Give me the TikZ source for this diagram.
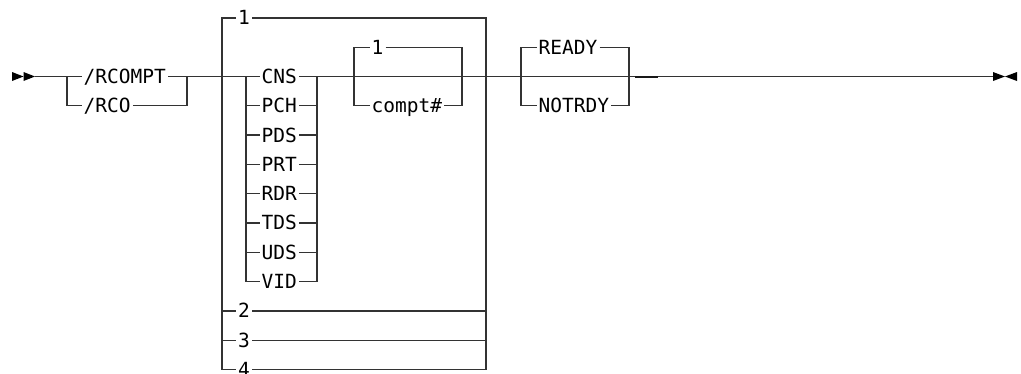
\documentclass[tikz,border=0pt]{standalone}
\usepackage{fontspec}
\newfontfamily\rrfont{DejaVu Sans Mono}
\begin{document}
\begin{tikzpicture}[x=1pt,y=-1pt,
  rail/.style={draw=black!80,line width=1.3pt},
  kw/.style={anchor=west,inner xsep=2pt,inner ysep=0pt,text height=13.85pt,text depth=0pt,
    font=\rrfont\fontsize{19.5}{19.5}\selectfont,text=black},
  tip/.style={fill=black,draw=none},
  thick seg/.style={draw=black!90,line width=2pt}]
\useasboundingbox (0,0) rectangle (1021,373);
\clip (0,0) rectangle (1021,373);
% start marker
\fill[tip] (12,72) -- (23.5,76.5) -- (12,81) -- cycle;
\fill[tip] (23.5,72) -- (35,76.5) -- (23.5,81) -- cycle;
\coordinate (s) at (35,76.5);
% group A
\coordinate (aL1) at (67,76.5);  \coordinate (aL2) at (67,105.8);
\coordinate (aR1) at (187,76.5); \coordinate (aR2) at (187,105.8);
\node[kw] (rcompt) at (81.5,76.5) {/RCOMPT};
\node[kw] (rco) at (81.5,105.8) {/RCO};
\draw[rail] (s) -- (aL1) -- (rcompt.west);
\draw[rail] (rcompt.east) -- (aR1);
\draw[rail] (aL1) -- (aL2) -- (rco.west);
\draw[rail] (rco.east) -- (aR2) -- (aR1);
% outer box B
\coordinate (bL0) at (222,76.5);  \coordinate (bR0) at (486,76.5);
\coordinate (bLt) at (222,17.9);  \coordinate (bRt) at (486,17.9);
\coordinate (bL8) at (222,310.9); \coordinate (bR8) at (486,310.9);
\coordinate (bL9) at (222,340.2); \coordinate (bR9) at (486,340.2);
\coordinate (bLb) at (222,369.5); \coordinate (bRb) at (486,369.5);
\node[kw] (bone) at (236,17.9) {1};
\node[kw] (btwo) at (236,310.9) {2};
\node[kw] (bthree) at (236,340.2) {3};
\node[kw] (bfour) at (236,369.5) {4};
\draw[rail] (aR1) -- (bL0);
\draw[rail] (bL0) -- (bLt) -- (bone.west);
\draw[rail] (bone.east) -- (bRt) -- (bR0);
\draw[rail] (bL0) -- (bLb) -- (bfour.west);
\draw[rail] (bfour.east) -- (bRb) -- (bR0);
\draw[rail] (bL8) -- (btwo.west);
\draw[rail] (btwo.east) -- (bR8);
\draw[rail] (bL9) -- (bthree.west);
\draw[rail] (bthree.east) -- (bR9);
% group C
\coordinate (cL0) at (246,76.5);  \coordinate (cR0) at (317,76.5);
\coordinate (cL7) at (246,281.6); \coordinate (cR7) at (317,281.6);
\draw[rail] (bL0) -- (cL0) -- (cL7);
\draw[rail] (cR0) -- (cR7);
\foreach \t [count=\i from 0] in {CNS,PCH,PDS,PRT,RDR,TDS,UDS,VID}{
  \coordinate (cl\i) at (246,76.5+29.3*\i);
  \coordinate (cr\i) at (317,76.5+29.3*\i);
  \node[kw] (c\t) at (259.5,76.5+29.3*\i) {\t};
  \draw[rail] (cl\i) -- (c\t.west);
  \draw[rail] (c\t.east) -- (cr\i);
}
% group D
\coordinate (dL0) at (354,76.5);  \coordinate (dR0) at (462,76.5);
\coordinate (dLt) at (354,47.2);  \coordinate (dRt) at (462,47.2);
\coordinate (dLb) at (354,105.8); \coordinate (dRb) at (462,105.8);
\node[kw] (done) at (369.5,47.2) {1};
\node[kw] (compt) at (369.5,105.8) {compt\#};
\draw[rail] (cR0) -- (dL0) -- (dR0) -- (bR0);
\draw[rail] (dL0) -- (dLt) -- (done.west);
\draw[rail] (done.east) -- (dRt) -- (dR0);
\draw[rail] (dL0) -- (dLb) -- (compt.west);
\draw[rail] (compt.east) -- (dRb) -- (dR0);
% group E
\coordinate (eL0) at (521,76.5);  \coordinate (eR0) at (629,76.5);
\coordinate (eLt) at (521,47.2);  \coordinate (eRt) at (629,47.2);
\coordinate (eLb) at (521,105.8); \coordinate (eRb) at (629,105.8);
\node[kw] (ready) at (536.5,47.2) {READY};
\node[kw] (notrdy) at (536.5,105.8) {NOTRDY};
\draw[rail] (bR0) -- (eL0) -- (eR0);
\draw[rail] (eL0) -- (eLt) -- (ready.west);
\draw[rail] (ready.east) -- (eRt) -- (eR0);
\draw[rail] (eL0) -- (eLb) -- (notrdy.west);
\draw[rail] (notrdy.east) -- (eRb) -- (eR0);
% tail
\coordinate (k1) at (635,76.5); \coordinate (k2) at (658,76.5);
\coordinate (fin) at (993,76.5);
\draw[rail] (eR0) -- (fin);
\draw[thick seg] (k1) -- (k2);
\fill[tip] (993,72) -- (1005,76.5) -- (993,81) -- cycle;
\fill[tip] (1017,72) -- (1005,76.5) -- (1017,81) -- cycle;
\end{tikzpicture}
\end{document}
